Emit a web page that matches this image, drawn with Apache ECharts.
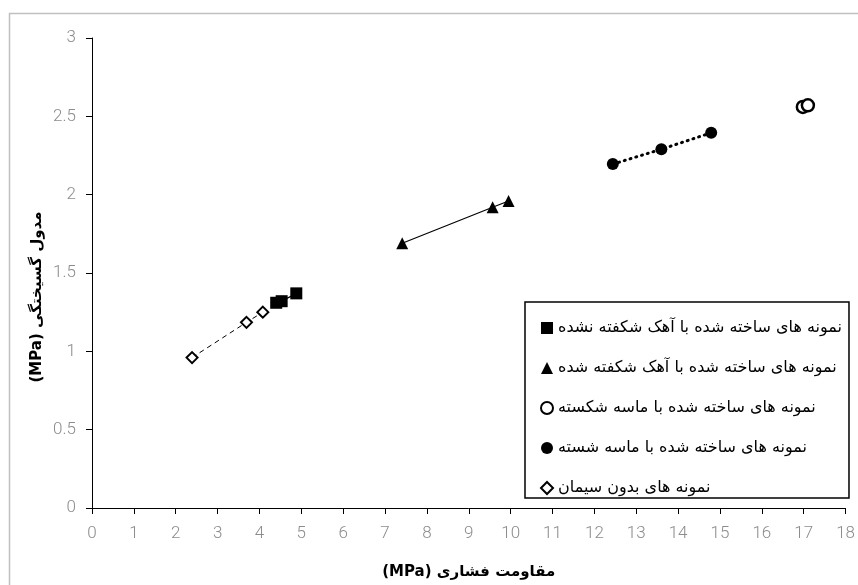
<!DOCTYPE html>
<html>
<head>
<meta charset="utf-8">
<script src="https://cdn.jsdelivr.net/npm/echarts@6/dist/echarts.min.js"></script>
<style>html,body{margin:0;padding:0;background:#fff;}#c{width:858px;height:585px;}</style>
</head>
<body>
<div id="c"></div>
<script>
// Series names (legend)
const seriesNames = [
  'نمونه های ساخته شده با آهک شکفته نشده',
  'نمونه های ساخته شده با آهک شکفته شده',
  'نمونه های ساخته شده با ماسه شکسته',
  'نمونه های ساخته شده با ماسه شسته',
  'نمونه های بدون سیمان'
];
// [compressive strength, modulus of rupture]
const unslakedLime = [[4.40, 1.31], [4.53, 1.32], [4.88, 1.37]];
const slakedLime   = [[7.41, 1.69], [9.57, 1.92], [9.95, 1.96]];
const crushedSand  = [[16.98, 2.56], [17.10, 2.57]];
const washedSand   = [[12.44, 2.195], [13.60, 2.29], [14.79, 2.395]];
const noCement     = [[2.39, 0.96], [3.69, 1.185], [4.08, 1.25]];

const xTitleText = 'مقاومت فشاری';
const yTitleText = 'مدول گسیختگی';
const unitText = '(MPa)';

const chart = echarts.init(document.getElementById('c'));
const labelStyle = {color: '#8c8c8c', fontSize: 17, fontFamily: 'Roboto', fontWeight: 300};
const arabicFont = 'DejaVu Sans';
const titleRich = {
  a: {fontFamily: arabicFont, fontWeight: 'bold', fontSize: 15, color: '#000'},
  b: {fontFamily: arabicFont, fontWeight: 'bold', fontSize: 15, color: '#000'}
};

chart.setOption({
  animation: false,
  backgroundColor: '#fff',
  grid: {left: 92, right: 8, top: 38, bottom: 77, containLabel: false},
  xAxis: {
    type: 'value', min: 0, max: 18, interval: 1,
    axisLine: {show: true, lineStyle: {color: '#000', width: 1}},
    axisTick: {show: true, inside: false, length: 6, lineStyle: {color: '#000'}},
    axisLabel: Object.assign({margin: 17}, labelStyle),
    splitLine: {show: false},
    name: '{b|' + unitText + '} {a|' + xTitleText + '}', nameLocation: 'middle', nameGap: 57,
    nameTextStyle: {fontFamily: arabicFont, fontWeight: 'bold', fontSize: 15, color: '#000', rich: titleRich}
  },
  yAxis: {
    type: 'value', min: 0, max: 3, interval: 0.5,
    axisLine: {show: true, lineStyle: {color: '#000', width: 1}},
    axisTick: {show: true, inside: false, length: 6, lineStyle: {color: '#000'}},
    axisLabel: Object.assign({margin: 16}, labelStyle),
    splitLine: {show: false}
  },
  legend: {
    orient: 'vertical', left: 525, top: 302,
    padding: [16, 7, 0, 15],
    borderColor: '#000', borderWidth: 1.5,
    backgroundColor: '#fff',
    itemWidth: 12, itemHeight: 12, itemGap: 20,
    textStyle: {fontFamily: arabicFont, fontSize: 16, color: '#000', lineHeight: 20},
    data: [
      {name: seriesNames[0], icon: 'rect'},
      {name: seriesNames[1], icon: 'triangle'},
      {name: seriesNames[2], icon: 'circle'},
      {name: seriesNames[3], icon: 'circle'},
      {name: seriesNames[4], icon: 'diamond'}
    ]
  },
  graphic: [
    {type: 'rect', silent: true, z: -10, shape: {x: 9.5, y: 13.5, width: 1000, height: 1000},
     style: {fill: 'none', stroke: '#c0c0c0', lineWidth: 1.5}},
    {type: 'text', x: 37, y: 297, rotation: Math.PI / 2,
     style: {text: '{b|' + unitText + '} {a|' + yTitleText + '}', rich: titleRich,
             font: 'bold 15px "DejaVu Sans"', fill: '#000', align: 'center', verticalAlign: 'middle'}}
  ],
  series: [
    {name: seriesNames[0], type: 'line', data: unslakedLime, symbol: 'rect', symbolSize: 12,
     itemStyle: {color: '#000'}, lineStyle: {color: '#000', width: 1.2}, z: 5},
    {name: seriesNames[1], type: 'line', data: slakedLime, symbol: 'triangle', symbolSize: 12,
     itemStyle: {color: '#000'}, lineStyle: {color: '#000', width: 1.2}},
    {name: seriesNames[2], type: 'line', data: crushedSand, symbol: 'circle', symbolSize: 12,
     itemStyle: {color: '#fff', borderColor: '#000', borderWidth: 2.5}, lineStyle: {color: '#000', width: 1}},
    {name: seriesNames[3], type: 'line', data: washedSand, symbol: 'circle', symbolSize: 12,
     itemStyle: {color: '#000'}, lineStyle: {color: '#000', width: 3, type: [1, 5], cap: 'round'}},
    {name: seriesNames[4], type: 'line', data: noCement, symbol: 'diamond', symbolSize: 11,
     itemStyle: {color: '#fff', borderColor: '#000', borderWidth: 2}, lineStyle: {color: '#000', width: 1, type: [5, 4]}}
  ]
});
</script>
</body>
</html>
